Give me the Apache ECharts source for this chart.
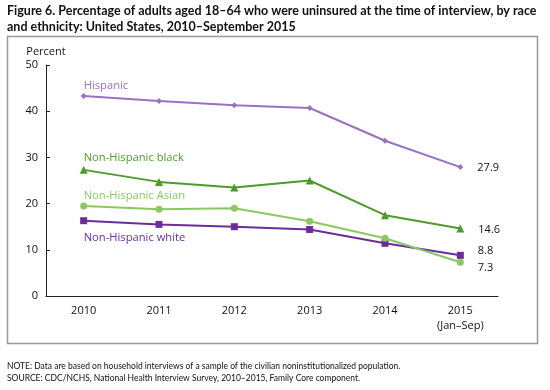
<!DOCTYPE html>
<html><head><meta charset="utf-8">
<script src="https://cdn.jsdelivr.net/npm/echarts@6/dist/echarts.min.js"></script>
<style>html,body{margin:0;padding:0;background:#fff}#c{width:550px;height:390px}</style>
</head><body><div id="c"></div>
<script>
var years = ['2010','2011','2012','2013','2014','2015'];
var yearLabels = ['2010','2011','2012','2013','2014','2015\n(Jan\u2013Sep)'];
var hispanic = [43.3, 42.2, 41.3, 40.7, 33.6, 27.9];
var black = [27.3, 24.7, 23.5, 25.0, 17.5, 14.6];
var asian = [19.5, 18.8, 19.0, 16.2, 12.5, 7.3];
var white = [16.3, 15.5, 15.0, 14.4, 11.4, 8.8];
var names = ['Hispanic','Non-Hispanic black','Non-Hispanic Asian','Non-Hispanic white'];
var yTicks = [0,10,20,30,40,50];

var FONT = 'Open Sans';
var colors = ['#9872bf','#4f9a2c','#8cc862','#6a2d9b'];
var symbols = ['diamond','triangle','circle','rect'];
var symSizes = [6,8,7,7];
var nameOffsets = [[0,-10],[0,-12],[0,-10],[0,17]];
var endOffsets = [[0,1],[0,1],[0,6],[0,-4]];

function build(vals, i){
  return vals.map(function(v, j){
    var d = {value: v};
    if (j === 0) {
      d.label = {show:true, formatter: names[i], position:'inside', offset: nameOffsets[i],
        align:'left', verticalAlign:'middle', color: colors[i], fontSize: 11.2, fontFamily: FONT};
    } else if (j === vals.length - 1) {
      d.label = {show:true, formatter: v.toFixed(1), position:'right', distance: 14, offset: endOffsets[i],
        color:'#111', fontSize: 11, fontFamily: FONT};
    }
    return d;
  });
}

var all = [hispanic, black, asian, white];
var series = all.map(function(vals, i){
  return {type:'line', name:names[i], data: build(vals, i), symbol: symbols[i], symbolSize: symSizes[i],
    lineStyle:{color:colors[i], width:2}, itemStyle:{color:colors[i]}, z: 10 - i, animation:false};
});

var chart = echarts.init(document.getElementById('c'), null, {renderer:'canvas'});
chart.setOption({
  animation:false,
  textStyle:{fontFamily:FONT},
  grid:{left:46, right:52, top:65, bottom:94},
  xAxis:{type:'category', data: yearLabels, boundaryGap:true,
    axisLine:{lineStyle:{color:'#222', width:1}},
    axisTick:{inside:true, length:4, lineStyle:{color:'#222'}},
    axisLabel:{color:'#111', fontSize:11, margin:7, lineHeight:15, fontFamily:FONT}},
  yAxis:{type:'value', min:0, max:50, interval:10,
    name:'Percent', nameLocation:'end', nameGap:8,
    nameTextStyle:{color:'#111', fontSize:11, align:'center', padding:[0,0,0,0], fontFamily:FONT},
    axisLine:{show:true, lineStyle:{color:'#222', width:1}},
    axisTick:{show:true, inside:true, length:4, lineStyle:{color:'#222'}},
    splitLine:{show:false},
    axisLabel:{color:'#111', fontSize:11, margin:8, fontFamily:FONT,
      formatter:function(v){ return yTicks.indexOf(v) >= 0 ? String(v) : ''; }}},
  series: series,
  graphic:[
    {type:'text', left:7, top:3, style:{text:'Figure 6. Percentage of adults aged 18\u201364 who were uninsured at the time of interview, by race\nand ethnicity: United States, 2010\u2013September 2015',
      font:'bold 12.5px Lato', fill:'#111', lineHeight:16}},
    {type:'rect', shape:{x:7.5, y:36.5, width:530, height:307}, style:{fill:'none', stroke:'#999', lineWidth:1.5}, z:-1},
    {type:'text', left:7, top:360, style:{text:'NOTE: Data are based on household interviews of a sample of the civilian noninstitutionalized population.\nSOURCE: CDC/NCHS, National Health Interview Survey, 2010\u20132015, Family Core component.',
      font:'8.5px Lato', fill:'#111', lineHeight:12}}
  ]
});
</script></body></html>
